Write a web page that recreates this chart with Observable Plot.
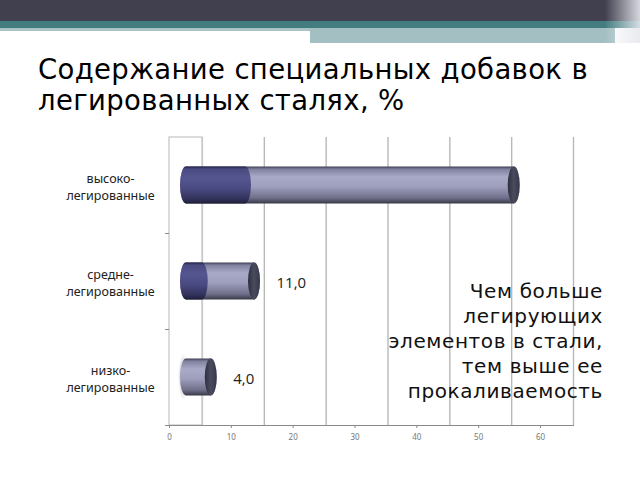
<!DOCTYPE html>
<html><head><meta charset="utf-8">
<script src="https://cdn.jsdelivr.net/npm/d3@7"></script>
<script src="https://cdn.jsdelivr.net/npm/@observablehq/plot@0.6"></script>
<style>
html,body{margin:0;padding:0;background:#fff}
body{width:640px;height:480px;position:relative;overflow:hidden;font-family:"DejaVu Sans",sans-serif}
.band{position:absolute}
#title{position:absolute;left:38px;top:54px;font-size:27.5px;letter-spacing:0.35px;line-height:31px;color:#000;white-space:nowrap}
#chart{position:absolute;left:0;top:130px}
#note{position:absolute;right:37px;top:279px;font-size:20px;letter-spacing:0.6px;line-height:25px;text-align:right;color:#111;white-space:nowrap}
</style></head><body>
<div class="band" style="left:0;top:0;width:640px;height:21px;background:#41404f"></div>
<div class="band" style="left:0;top:21px;width:640px;height:7px;background:#437d80"></div>
<div class="band" style="left:0;top:28px;width:310px;height:3px;background:#aac3c5"></div>
<div class="band" style="left:310px;top:28px;width:305px;height:15px;background:#a3bfc2"></div>
<div class="band" style="left:605px;top:0;width:35px;height:43px;background:linear-gradient(to right,rgba(255,255,255,0),rgba(230,232,238,0.9))"></div>
<div id="title">Содержание специальных добавок в<br>легированных сталях, %</div>
<div id="chart"></div>
<div id="note">Чем больше<br>легирующих<br>элементов в стали,<br>тем выше ее<br>прокаливаемость</div>
<script>
const categories = ["высоко-\nлегированные", "средне-\nлегированные", "низко-\nлегированные"];
const darkValues = [11, 4, 0];
const lightValues = [42, 7, 4];
const valueLabels = ["", "11,0", "4,0"];
const xTicks = [0, 10, 20, 30, 40, 50, 60];

const rows = categories.map((c, i) => ({
  cat: c,
  line1: c.split("\n")[0],
  line2: c.split("\n")[1],
  dark: darkValues[i],
  total: darkValues[i] + lightValues[i],
  label: valueLabels[i]
}));

const barOpts = {insetTop: 29.5, insetBottom: 29.5, insetLeft: -6, rx: 6, ry: 18.5, dx: 17};
const catText = {y: "cat", frameAnchor: "left", dx: -59, textAnchor: "middle", fontSize: 12.5, fill: "#222"};

const chart = Plot.plot({
  width: 640,
  height: 320,
  marginLeft: 169,
  marginRight: 67,
  marginTop: 7,
  marginBottom: 25,
  x: {domain: [0, 60], range: [169, 540], axis: null},
  y: {domain: categories, axis: null, padding: 0},
  style: {background: "transparent", overflow: "visible"},
  marks: [
    Plot.ruleX(xTicks, {dx: 33, stroke: (d) => d === 0 ? "#d6d6d6" : "#b8b8b8", strokeWidth: 1.4}),
    Plot.rect([0], {x1: (d) => d, x2: (d) => d, insetRight: -33, fill: "none", stroke: "#c4c4c4", strokeWidth: 1.2}),
    Plot.frame({anchor: "bottom", stroke: "#8a8a8a"}),
    Plot.axisX(xTicks, {tickSize: 3, tickPadding: 6, fontSize: 8, fill: "#777", stroke: "#8a8a8a", tickFormat: (d) => String(d)}),
    Plot.axisY(categories, {tickSize: 4, text: null, label: null, dy: 48, stroke: "#8a8a8a"}),
    Plot.text(rows, {...catText, text: "line1", dy: -6.5}),
    Plot.text(rows, {...catText, text: "line2", dy: 10.5}),
    Plot.barX(rows.filter((d) => d.dark === 0), {y: "cat", x1: () => 0, x2: () => 0, insetTop: 24, insetBottom: 24, insetLeft: -5, insetRight: -5, dx: 14, fill: "url(#gShadow)"}),
    Plot.barX(rows, {y: "cat", x: "total", ...barOpts, insetRight: -6, fill: "url(#gLight)"}),
    Plot.barX(rows.filter((d) => d.dark > 0), {y: "cat", x: "dark", ...barOpts, insetRight: 3, fill: "url(#gDark)"}),
    Plot.barX(rows, {y: "cat", x1: "total", x2: "total", insetTop: 29.5, insetBottom: 29.5, insetLeft: -6, insetRight: -6, rx: 6, ry: 18.5, dx: 17, fill: "url(#gCap)"}),
    Plot.text(rows.filter((d) => d.label), {y: "cat", x: "total", text: "label", dx: 39, dy: 2, textAnchor: "start", fontSize: 15, fontFamily: "Open Sans", fill: "#222"})
  ]
});

d3.select(chart).insert("defs", ":first-child").html(`
<linearGradient id="gLight" x1="0" y1="0" x2="0" y2="1">
  <stop offset="0" stop-color="#3c3c50"/>
  <stop offset="0.07" stop-color="#80809f"/>
  <stop offset="0.28" stop-color="#a9a9c8"/>
  <stop offset="0.55" stop-color="#9e9ebd"/>
  <stop offset="0.85" stop-color="#6f6f8a"/>
  <stop offset="1" stop-color="#38384a"/>
</linearGradient>
<linearGradient id="gDark" x1="0" y1="0" x2="0" y2="1">
  <stop offset="0" stop-color="#24244a"/>
  <stop offset="0.07" stop-color="#4a4a80"/>
  <stop offset="0.3" stop-color="#555591"/>
  <stop offset="0.6" stop-color="#4a4a82"/>
  <stop offset="0.88" stop-color="#31315a"/>
  <stop offset="1" stop-color="#1e1e38"/>
</linearGradient>
<linearGradient id="gCap" x1="0" y1="0" x2="1" y2="0">
  <stop offset="0" stop-color="#2e2f3e"/>
  <stop offset="0.5" stop-color="#4a4c5e"/>
  <stop offset="1" stop-color="#35364a"/>
</linearGradient>
<radialGradient id="gShadow" cx="0.5" cy="0.5" r="0.5">
  <stop offset="0" stop-color="#7a7a7a" stop-opacity="0.9"/>
  <stop offset="1" stop-color="#bbbbbb" stop-opacity="0"/>
</radialGradient>`);

document.getElementById("chart").appendChild(chart);
</script>
</body></html>
